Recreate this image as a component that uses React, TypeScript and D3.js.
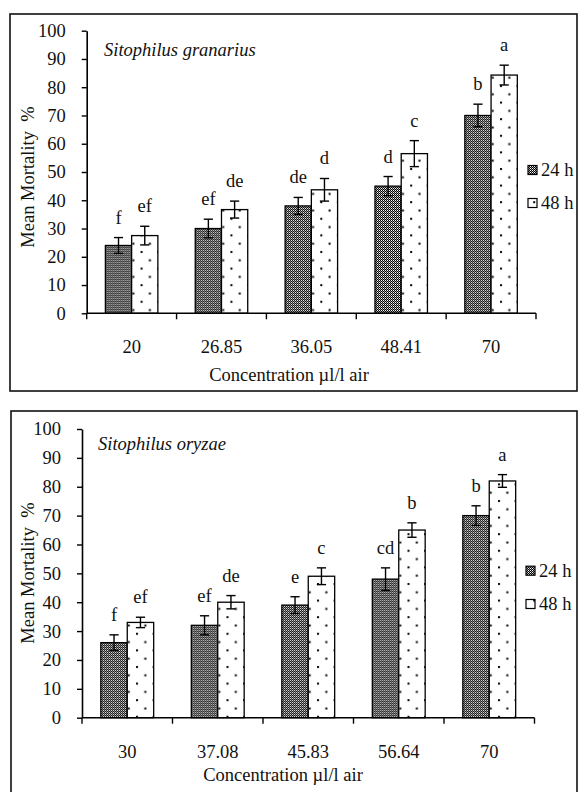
import React, { useRef, useEffect } from 'react';
import * as d3 from 'd3';

// values (mean mortality %, ± error)
const seriesNames = ['24 h', '48 h'];
const yTicks = [0, 10, 20, 30, 40, 50, 60, 70, 80, 90, 100];

const granariusConc = ['20', '26.85', '36.05', '48.41', '70'];
const granarius24 = [24, 30, 38, 45, 70];
const granarius48 = [27.5, 36.7, 43.7, 56.5, 84.3];
const granariusErr24 = [2.8, 3.3, 3, 3.4, 4];
const granariusErr48 = [3.3, 3, 4, 4.6, 3.5];
const granariusLetters24 = ['f', 'ef', 'de', 'd', 'b'];
const granariusLetters48 = ['ef', 'de', 'd', 'c', 'a'];

const oryzaeConc = ['30', '37.08', '45.83', '56.64', '70'];
const oryzae24 = [26, 32, 39, 48, 70];
const oryzae48 = [33, 40, 49, 65, 82];
const oryzaeErr24 = [2.7, 3.3, 2.9, 3.9, 3.4];
const oryzaeErr48 = [1.8, 2.3, 2.9, 2.5, 2.2];
const oryzaeLetters24 = ['f', 'ef', 'e', 'cd', 'b'];
const oryzaeLetters48 = ['ef', 'de', 'c', 'b', 'a'];

const FONT = "'Liberation Serif', 'DejaVu Serif', serif";
const FS = 18.5;

type Panel = {
  title: string;
  conc: string[];
  v24: number[];
  v48: number[];
  e24: number[];
  e48: number[];
  l24: string[];
  l48: string[];
  frame: { x: number; y: number; w: number; h: number };
  plot: { left: number; right: number; top: number; bottom: number };
  titleX: number;
  titleY: number;
  yLabelY: number;
  tickLabelY: number;
  xTitleX: number;
  xTitleY: number;
  legendX: number;
  legendY: number[];
};

const panels: Panel[] = [
  {
    title: 'Sitophilus granarius',
    conc: granariusConc, v24: granarius24, v48: granarius48,
    e24: granariusErr24, e48: granariusErr48, l24: granariusLetters24, l48: granariusLetters48,
    frame: { x: 10, y: 14, w: 567, h: 377 },
    plot: { left: 86.7, right: 536, top: 30.7, bottom: 313.3 },
    titleX: 104, titleY: 56, yLabelY: 177,
    tickLabelY: 353, xTitleX: 289, xTitleY: 380.5,
    legendX: 528, legendY: [170, 203],
  },
  {
    title: 'Sitophilus oryzae',
    conc: oryzaeConc, v24: oryzae24, v48: oryzae48,
    e24: oryzaeErr24, e48: oryzaeErr48, l24: oryzaeLetters24, l48: oryzaeLetters48,
    frame: { x: 11, y: 411, w: 566, h: 400 },
    plot: { left: 82, right: 534.5, top: 429, bottom: 717.7 },
    titleX: 98, titleY: 450, yLabelY: 573,
    tickLabelY: 758, xTitleX: 283, xTitleY: 780.5,
    legendX: 526, legendY: [570.7, 604],
  },
];

const App = () => {
  const svgRef = useRef<SVGSVGElement>(null);

  useEffect(() => {
    const svg = d3.select(svgRef.current);
    svg.selectAll('*').remove();

    const defs = svg.append('defs');
    // dense checker texture for 24 h
    const chk = defs.append('pattern').attr('id', 'pat24').attr('patternUnits', 'userSpaceOnUse')
      .attr('width', 2).attr('height', 2);
    chk.append('rect').attr('width', 2).attr('height', 2).attr('fill', '#000');
    chk.append('rect').attr('x', 0).attr('y', 0).attr('width', 1).attr('height', 1).attr('fill', '#fff');
    chk.append('rect').attr('x', 1).attr('y', 1).attr('width', 1).attr('height', 1).attr('fill', '#9a9a9a');
    // sparse staggered dots for 48 h
    const dots = defs.append('pattern').attr('id', 'pat48').attr('patternUnits', 'userSpaceOnUse')
      .attr('width', 16.6).attr('height', 16.6);
    dots.append('rect').attr('width', 16.6).attr('height', 16.6).attr('fill', '#fff');
    dots.append('rect').attr('x', 2).attr('y', 2).attr('width', 2).attr('height', 2).attr('fill', '#000');
    dots.append('rect').attr('x', 10.3).attr('y', 10.3).attr('width', 2).attr('height', 2).attr('fill', '#000');

    const fills = ['url(#pat24)', 'url(#pat48)'];

    const txt = (sel: d3.Selection<SVGTextElement, any, any, any>) =>
      sel.style('font-family', FONT).style('font-size', `${FS}px`).attr('fill', '#111');

    panels.forEach(p => {
      const g = svg.append('g');

      g.append('rect')
        .attr('x', p.frame.x).attr('y', p.frame.y)
        .attr('width', p.frame.w).attr('height', p.frame.h)
        .attr('fill', 'none').attr('stroke', '#111').attr('stroke-width', 1.6);

      const x = d3.scaleBand<string>()
        .domain(p.conc)
        .range([p.plot.left, p.plot.right])
        .paddingInner(0.416)
        .paddingOuter(0.208);
      const xs = d3.scaleBand<string>().domain(seriesNames).range([0, x.bandwidth()]);
      const y = d3.scaleLinear().domain([0, 100]).range([p.plot.bottom, p.plot.top]);

      const rows = p.conc.map((c, i) => ({
        c,
        items: [
          { s: seriesNames[0], v: p.v24[i], e: p.e24[i], l: p.l24[i] },
          { s: seriesNames[1], v: p.v48[i], e: p.e48[i], l: p.l48[i] },
        ],
      }));

      // y axis
      const yAxis = g.append('g')
        .attr('transform', `translate(${p.plot.left},0)`)
        .call(d3.axisLeft(y).tickValues(yTicks).tickSize(5).tickSizeOuter(0).tickPadding(16));
      yAxis.select('.domain').attr('stroke', '#000').attr('stroke-width', 1.6);
      yAxis.selectAll('.tick line').attr('stroke', '#000').attr('stroke-width', 1.4);
      txt(yAxis.selectAll('.tick text'));

      // letters above the error bars
      rows.forEach(r => {
        r.items.forEach(it => {
          const cx = (x(r.c) as number) + (xs(it.s) as number) + xs.bandwidth() / 2;
          txt(g.append('text'))
            .attr('x', cx)
            .attr('y', y(it.v + it.e) - 14)
            .attr('text-anchor', 'middle')
            .text(it.l);
        });
      });

      // bars
      const grp = g.selectAll('g.grp').data(rows).enter().append('g')
        .attr('class', 'grp')
        .attr('transform', d => `translate(${x(d.c)},0)`);
      grp.selectAll('rect').data(d => d.items).enter().append('rect')
        .attr('x', d => xs(d.s) as number)
        .attr('y', d => y(d.v))
        .attr('width', xs.bandwidth())
        .attr('height', d => y(0) - y(d.v))
        .attr('fill', (d, i) => fills[i])
        .attr('stroke', '#000')
        .attr('stroke-width', 1.3);

      // error bars
      grp.selectAll('g.err').data(d => d.items).enter().append('g')
        .attr('class', 'err')
        .each(function (d) {
          const eg = d3.select(this);
          const cx = (xs(d.s) as number) + xs.bandwidth() / 2;
          eg.append('line').attr('x1', cx).attr('x2', cx)
            .attr('y1', y(d.v - d.e)).attr('y2', y(d.v + d.e));
          [d.v - d.e, d.v + d.e].forEach(vv => {
            eg.append('line').attr('x1', cx - 4.6).attr('x2', cx + 4.6)
              .attr('y1', y(vv)).attr('y2', y(vv));
          });
          eg.selectAll('line').attr('stroke', '#000').attr('stroke-width', 1.4);
        });

      // x axis: line with ticks at category boundaries
      g.append('line')
        .attr('x1', p.plot.left).attr('x2', p.plot.right)
        .attr('y1', y(0)).attr('y2', y(0))
        .attr('stroke', '#000').attr('stroke-width', 1.6);
      d3.range(p.conc.length + 1).forEach(i => {
        const bx = p.plot.left + i * x.step();
        g.append('line')
          .attr('x1', bx).attr('x2', bx)
          .attr('y1', y(0)).attr('y2', y(0) + 6)
          .attr('stroke', '#000').attr('stroke-width', 1.4);
      });
      txt(g.selectAll('text.xl').data(p.conc).enter().append('text'))
        .attr('class', 'xl')
        .attr('x', d => (x(d) as number) + x.bandwidth() / 2)
        .attr('y', p.tickLabelY)
        .attr('text-anchor', 'middle')
        .text(d => d);

      txt(g.append('text'))
        .attr('x', p.xTitleX).attr('y', p.xTitleY)
        .attr('text-anchor', 'middle')
        .text('Concentration µl/l air');

      txt(g.append('text'))
        .attr('transform', `translate(34,${p.yLabelY}) rotate(-90)`)
        .attr('text-anchor', 'middle')
        .style('white-space', 'pre')
        .text('Mean Mortality  %');

      txt(g.append('text'))
        .attr('x', p.titleX).attr('y', p.titleY)
        .style('font-style', 'italic')
        .text(p.title);

      // legend
      seriesNames.forEach((s, i) => {
        const cy = p.legendY[i];
        g.append('rect')
          .attr('x', p.legendX).attr('y', cy - 4.5)
          .attr('width', 9).attr('height', 9)
          .attr('fill', fills[i]).attr('stroke', '#000').attr('stroke-width', 1.2);
        txt(g.append('text'))
          .attr('x', p.legendX + 13).attr('y', cy + 6)
          .text(s);
      });
    });
  }, []);

  return (
    <svg
      ref={svgRef}
      width={578}
      height={792}
      style={{ position: 'absolute', left: 0, top: 0, background: '#fff' }}
    />
  );
};

export default App;
